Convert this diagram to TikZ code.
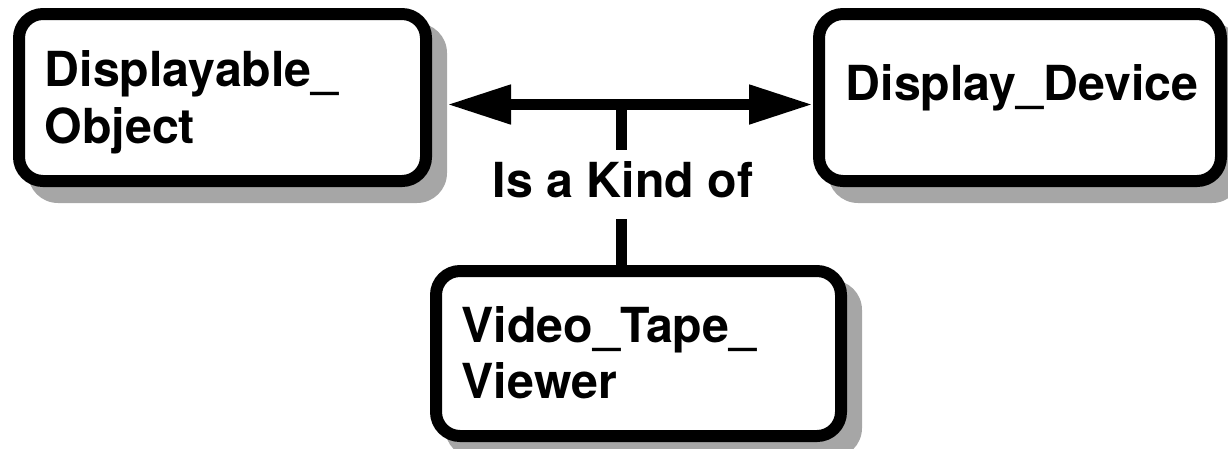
\documentclass[tikz,border=0pt]{standalone}
\usepackage{fontspec}
\setmainfont{TeX Gyre Heros}
\usetikzlibrary{arrows.meta,backgrounds}
\definecolor{shadowc}{RGB}{166,166,166}
\begin{document}
\begin{tikzpicture}[x=1pt,y=-1pt,
  box/.style={draw, line width=12pt, rounded corners=24pt, fill=white, inner sep=0pt},
  boxtext/.style={font=\fontsize{48.3}{48}\selectfont\bfseries, inner sep=0pt, anchor=base west},
  conn/.style={line width=11pt},
  tipend/.style={-{Triangle[length=64pt,width=37pt]}}
]
\useasboundingbox (0,0) rectangle (1228,448);
\node[box, minimum width=407pt, minimum height=167pt] (dobj) at (222.5,97.5) {};
\node[box, minimum width=402pt, minimum height=167pt] (ddev) at (1020,97.5) {};
\node[box, minimum width=405pt, minimum height=165pt] (vtv) at (638.5,353.5) {};
\begin{pgfonlayer}{background}
\foreach \n in {dobj,ddev,vtv}
  \fill[shadowc, rounded corners=30pt] ([shift={(15pt,-15pt)}]\n.north west) rectangle ([shift={(15pt,-16pt)}]\n.south east);
\end{pgfonlayer}
\node[boxtext] (t1) at (44.5,86.5) {Displayable\_};
\node[boxtext] (t2) at (44.5,143.5) {Object};
\node[boxtext] (t3) at (845.5,100) {Display\_Device};
\node[boxtext] (t4) at (461.5,342) {Video\_Tape\_};
\node[boxtext] (t5) at (461.5,398.5) {Viewer};
\node[font=\fontsize{48.3}{48}\selectfont\bfseries, anchor=base, text height=35pt, text depth=10pt, inner ysep=12pt, inner xsep=0pt] (kind) at (623,197) {Is a Kind of};
\coordinate (jn) at (621,104.5);
\draw[conn, tipend] (jn) -- ([xshift=15pt]jn -| dobj.east);
\draw[conn, tipend] (jn) -- (jn -| ddev.west);
\draw[conn] (jn) -- (jn |- kind.north);
\draw[conn] (jn |- kind.south) -- (jn |- vtv.north);
\end{tikzpicture}
\end{document}
